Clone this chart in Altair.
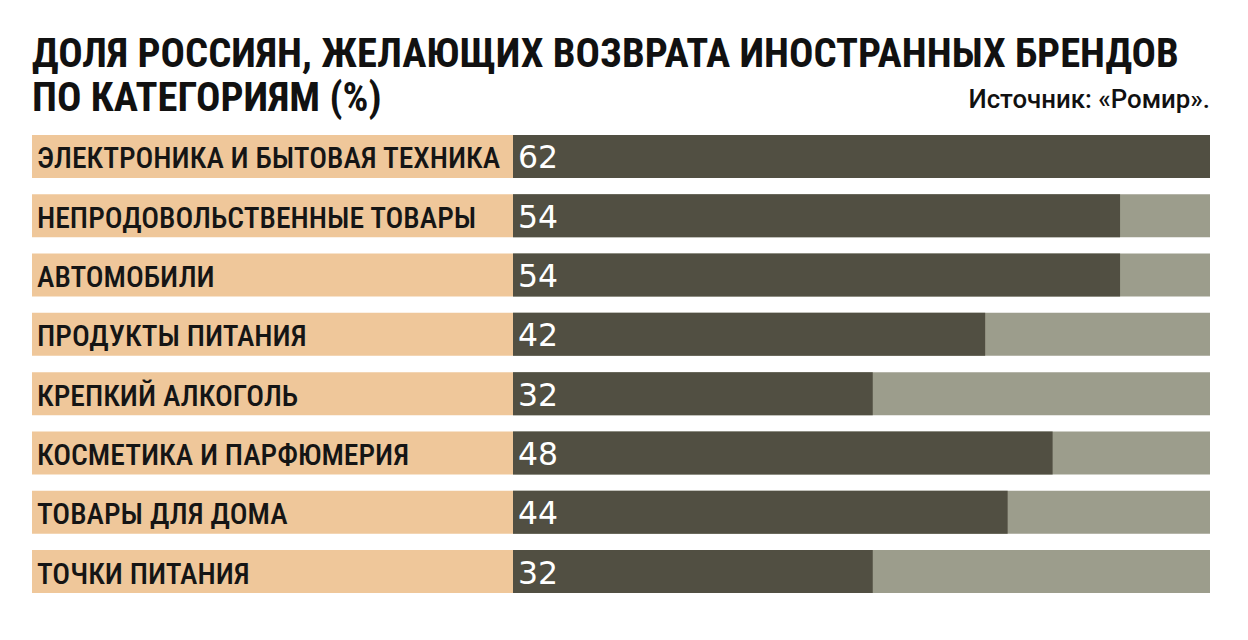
import altair as alt
import pandas as pd

categories = [
    "ЭЛЕКТРОНИКА И БЫТОВАЯ ТЕХНИКА",
    "НЕПРОДОВОЛЬСТВЕННЫЕ ТОВАРЫ",
    "АВТОМОБИЛИ",
    "ПРОДУКТЫ ПИТАНИЯ",
    "КРЕПКИЙ АЛКОГОЛЬ",
    "КОСМЕТИКА И ПАРФЮМЕРИЯ",
    "ТОВАРЫ ДЛЯ ДОМА",
    "ТОЧКИ ПИТАНИЯ",
]
values = [62, 54, 54, 42, 32, 48, 44, 32]
title_lines = ["ДОЛЯ РОССИЯН, ЖЕЛАЮЩИХ ВОЗВРАТА ИНОСТРАННЫХ БРЕНДОВ", "ПО КАТЕГОРИЯМ (%)"]
source = "Источник: «Ромир»."

df = pd.DataFrame({"cat": categories, "value": values})

PEACH = "#EFC79A"
DARK = "#514F42"
GRAY = "#9C9D8C"
COND = "Roboto Condensed"
H = 458
band = alt.Scale(paddingInner=0.275, paddingOuter=0)
yenc = alt.Y("cat:N", sort=categories, axis=None, scale=band)

base = alt.Chart(df)

left_bg = base.mark_bar(color=PEACH).encode(y=yenc, x=alt.value(0), x2=alt.value(481))
left_txt = base.mark_text(align="left", baseline="middle", dy=3, font=COND,
                          fontSize=29.6, fontWeight=500, color="#151515").encode(
    y=yenc, x=alt.value(5), text="cat:N")
title_df = pd.DataFrame({"t": title_lines, "yy": [-100, -56]})
title_txt = alt.Chart(title_df).mark_text(align="left", baseline="top", font=COND,
                                          fontSize=40.6, fontWeight="bold", color="#111111").encode(
    x=alt.value(0), y=alt.Y("yy:Q", scale=None), text="t:N")
left = (left_bg + left_txt + title_txt).properties(width=481, height=H)

xs = alt.Scale(domain=[0, 62])
right_bg = base.mark_bar(color=GRAY).encode(y=yenc, x=alt.value(0), x2=alt.value(697))
right_bar = base.mark_bar(color=DARK).encode(
    y=yenc, x=alt.X("value:Q", scale=xs, axis=None))
right_txt = base.mark_text(align="left", baseline="middle", dy=3, font="DejaVu Sans",
                           fontSize=31.5, color="white").encode(
    y=yenc, x=alt.value(5), text="value:Q")
src_df = pd.DataFrame({"t": [source]})
src = alt.Chart(src_df).mark_text(align="right", baseline="alphabetic", font="Roboto",
                                  fontSize=25.8, fontWeight=500, color="#111111").encode(
    x=alt.value(697), y=alt.value(-27), text="t:N")
right = (right_bg + right_bar + right_txt + src).properties(width=697, height=H)

chart = alt.hconcat(left, right, spacing=0, bounds="flush").properties(
    padding={"left": 32, "top": 35, "right": 38, "bottom": 40},
    background="white",
).configure_view(stroke=None)

chart.save("out.html", embed_options={"renderer": "svg", "actions": False})
